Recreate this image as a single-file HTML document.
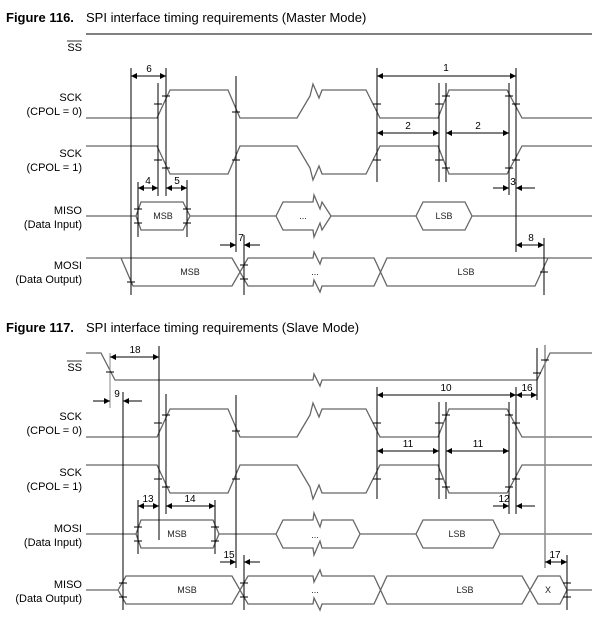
<!DOCTYPE html>
<html><head><style>
body{margin:0;background:#fff}
svg{display:block}
text{font-family:"Liberation Sans",Arial,sans-serif}
.s{fill:none;stroke:#666;stroke-width:1.3}
.k{fill:none;stroke:#000;stroke-width:1}
.l{font-size:11px;text-anchor:end;fill:#000}
.n{font-size:10px;text-anchor:middle;fill:#000}
.b{font-size:9px;text-anchor:middle;fill:#222}
</style></head><body>
<svg width="607" height="623" viewBox="0 0 607 623" xmlns="http://www.w3.org/2000/svg">
<defs>
<marker id="a" viewBox="0 0 10 10" refX="10" refY="5" markerWidth="9" markerHeight="6" orient="auto-start-reverse" markerUnits="userSpaceOnUse"><path d="M0,0L10,5L0,10z" fill="#000"/></marker>
</defs>
<!-- Figure 116 -->
<text x="6" y="22" font-size="13" font-weight="bold">Figure 116.</text>
<text x="86" y="22" font-size="13">SPI interface timing requirements (Master Mode)</text>
<line x1="86" y1="34" x2="592" y2="34" stroke="#000" stroke-width="1"/>
<text class="l" x="82" y="51">SS</text>
<line x1="67" y1="41" x2="82" y2="41" stroke="#000" stroke-width="0.8"/>
<text class="l" x="82" y="101">SCK</text><text class="l" x="82" y="115">(CPOL = 0)</text>
<text class="l" x="82" y="157">SCK</text><text class="l" x="82" y="171">(CPOL = 1)</text>
<text class="l" x="82" y="214">MISO</text><text class="l" x="82" y="228">(Data Input)</text>
<text class="l" x="82" y="269">MOSI</text><text class="l" x="82" y="283">(Data Output)</text>

<g id="sck">
<path class="s" d="M86,118H157L170,90H228L240,118H297L310,96L313,84L319,98L322,90H366L380,118H438L449,90H507L522,118H592"/>
<path class="s" d="M86,146H157L170,174H228L240,146H297L310,168L313,180L319,166L322,174H366L380,146H438L449,174H507L522,146H592"/>
</g>
<!-- MISO in -->
<path class="s" d="M86,216H136L141,202H183L190,216L183,230H141L136,216M190,216H276L283,202H313L314,195L320,209L322,202L331,216L322,230L320,223L314,237L313,230H283L276,216M331,216H416L423,202H465L472,216L465,230H423L416,216M472,216H592"/>
<text class="b" x="163" y="219">MSB</text><text class="b" x="303" y="219">...</text><text class="b" x="444" y="219">LSB</text>
<!-- MOSI out -->
<path class="s" d="M86,258H232L248,286H313L314,280L320,292L322,286H374L387,258H592M121,258L133,286H232L248,258H313L314,252L320,264L322,258H374L387,286H535L548,258"/>
<text class="b" x="190" y="275">MSB</text><text class="b" x="315" y="275">...</text><text class="b" x="466" y="275">LSB</text>

<g class="k">
<line x1="131" y1="68" x2="131" y2="295"/>
<line x1="158" y1="83" x2="158" y2="196"/>
<line x1="166" y1="68" x2="166" y2="196"/>
<line x1="236" y1="76" x2="236" y2="252"/>
<line x1="244" y1="235" x2="244" y2="295"/>
<line x1="138" y1="182" x2="138" y2="237"/>
<line x1="187" y1="180" x2="187" y2="237"/>
<line x1="377" y1="68" x2="377" y2="182"/>
<line x1="516" y1="68" x2="516" y2="252"/>
<line x1="439" y1="83" x2="439" y2="182"/>
<line x1="446" y1="83" x2="446" y2="182"/>
<line x1="509" y1="83" x2="509" y2="195"/>
<line x1="544" y1="238" x2="544" y2="295"/>
<line x1="131" y1="76" x2="166" y2="76" marker-start="url(#a)" marker-end="url(#a)"/>
<line x1="138" y1="188" x2="158" y2="188" marker-start="url(#a)" marker-end="url(#a)"/>
<line x1="166" y1="188" x2="187" y2="188" marker-start="url(#a)" marker-end="url(#a)"/>
<line x1="220" y1="245" x2="236" y2="245" marker-end="url(#a)"/>
<line x1="260" y1="245" x2="244" y2="245" marker-end="url(#a)"/>
<line x1="377" y1="76" x2="516" y2="76" marker-start="url(#a)" marker-end="url(#a)"/>
<line x1="377" y1="133" x2="439" y2="133" marker-start="url(#a)" marker-end="url(#a)"/>
<line x1="446" y1="133" x2="509" y2="133" marker-start="url(#a)" marker-end="url(#a)"/>
<line x1="493" y1="188" x2="509" y2="188" marker-end="url(#a)"/>
<line x1="535" y1="188" x2="516" y2="188" marker-end="url(#a)"/>
<line x1="516" y1="245" x2="544" y2="245" marker-start="url(#a)" marker-end="url(#a)"/>
<path d="M127,282h8M154,104h8M162,96h8M232,112h8M154,160h8M162,168h8M232,160h8M134,209h8M134,223h8M183,209h8M183,223h8M240,265h8M240,279h8M373,104h8M373,160h8M435,104h8M442,96h8M435,160h8M442,168h8M505,96h8M512,104h8M505,168h8M512,160h8M540,272h8"/>
</g>
<text class="n" x="149" y="72">6</text><text class="n" x="148" y="184">4</text><text class="n" x="177" y="184">5</text>
<text class="n" x="241" y="241">7</text><text class="n" x="446" y="71">1</text>
<text class="n" x="408" y="129">2</text><text class="n" x="478" y="129">2</text>
<text class="n" x="513" y="185">3</text><text class="n" x="531" y="241">8</text>

<!-- Figure 117 -->
<text x="6" y="332" font-size="13" font-weight="bold">Figure 117.</text>
<text x="86" y="332" font-size="13">SPI interface timing requirements (Slave Mode)</text>
<text class="l" x="82" y="371">SS</text>
<line x1="67" y1="361" x2="82" y2="361" stroke="#000" stroke-width="0.8"/>
<text class="l" x="82" y="420">SCK</text><text class="l" x="82" y="434">(CPOL = 0)</text>
<text class="l" x="82" y="476">SCK</text><text class="l" x="82" y="490">(CPOL = 1)</text>
<text class="l" x="82" y="532">MOSI</text><text class="l" x="82" y="546">(Data Input)</text>
<text class="l" x="82" y="588">MISO</text><text class="l" x="82" y="602">(Data Output)</text>

<path class="s" d="M86,353H101L115,380H313L314,374L320,386L322,380H537L550,353H592"/>
<g transform="translate(0,319)">
<path class="s" d="M86,118H157L170,90H228L240,118H297L310,96L313,84L319,98L322,90H366L380,118H438L449,90H507L522,118H592"/>
<path class="s" d="M86,146H157L170,174H228L240,146H297L310,168L313,180L319,166L322,174H366L380,146H438L449,174H507L522,146H592"/>
</g>
<g transform="translate(0,318)">
<path class="s" d="M86,216H136L141,202H213L219,216L213,230H141L136,216M219,216H276L283,202H313L314,195L320,209L322,202H353L360,216L353,230H322L320,223L314,237L313,230H283L276,216M360,216H416L423,202H493L500,216L493,230H423L416,216M500,216H592"/>
<path class="s" d="M86,272H118L126,258H232L248,286H313L314,280L320,292L322,286H374L387,258H522L538,286H560L567,272L560,258H538L522,286H387L374,258H322L320,252L314,264L313,258H248L232,286H126L118,272M567,272H592"/>
</g>
<text class="b" x="177" y="537">MSB</text><text class="b" x="315" y="538">...</text><text class="b" x="457" y="537">LSB</text>
<text class="b" x="187" y="593">MSB</text><text class="b" x="315" y="593">...</text><text class="b" x="465" y="593">LSB</text><text class="b" x="548" y="593">X</text>

<g class="k">
<line x1="110" y1="353" x2="110" y2="408" stroke="#888"/>
<line x1="159" y1="346" x2="159" y2="540"/>
<line x1="123" y1="392" x2="123" y2="610"/>
<line x1="166" y1="394" x2="166" y2="514"/>
<line x1="236" y1="395" x2="236" y2="568"/>
<line x1="244" y1="555" x2="244" y2="610"/>
<line x1="138" y1="500" x2="138" y2="554"/>
<line x1="215" y1="500" x2="215" y2="554"/>
<line x1="377" y1="387" x2="377" y2="499"/>
<line x1="516" y1="387" x2="516" y2="514"/>
<line x1="439" y1="402" x2="439" y2="499"/>
<line x1="446" y1="402" x2="446" y2="499"/>
<line x1="509" y1="402" x2="509" y2="514"/>
<line x1="537" y1="348" x2="537" y2="400"/>
<line x1="545" y1="345" x2="545" y2="568" stroke="#888" stroke-width="1.5"/>
<line x1="567" y1="555" x2="567" y2="610"/>
<line x1="110" y1="357" x2="159" y2="357" marker-start="url(#a)" marker-end="url(#a)"/>
<line x1="93" y1="401" x2="110" y2="401" marker-end="url(#a)"/>
<line x1="142" y1="401" x2="123" y2="401" marker-end="url(#a)"/>
<line x1="138" y1="506" x2="159" y2="506" marker-start="url(#a)" marker-end="url(#a)"/>
<line x1="166" y1="506" x2="215" y2="506" marker-start="url(#a)" marker-end="url(#a)"/>
<line x1="220" y1="562" x2="236" y2="562" marker-end="url(#a)"/>
<line x1="260" y1="562" x2="244" y2="562" marker-end="url(#a)"/>
<line x1="377" y1="395" x2="516" y2="395" marker-start="url(#a)" marker-end="url(#a)"/>
<line x1="516" y1="395" x2="537" y2="395" marker-start="url(#a)" marker-end="url(#a)"/>
<line x1="377" y1="451" x2="439" y2="451" marker-start="url(#a)" marker-end="url(#a)"/>
<line x1="446" y1="451" x2="509" y2="451" marker-start="url(#a)" marker-end="url(#a)"/>
<line x1="493" y1="506" x2="509" y2="506" marker-end="url(#a)"/>
<line x1="535" y1="506" x2="516" y2="506" marker-end="url(#a)"/>
<line x1="545" y1="562" x2="567" y2="562" marker-start="url(#a)" marker-end="url(#a)"/>
<path d="M106,372h8M533,373h8M541,360h8M154,423h8M162,415h8M232,431h8M154,479h8M162,487h8M232,479h8M134,527h8M134,541h8M211,527h8M211,541h8M119,583h8M119,597h8M240,583h8M240,597h8M373,423h8M373,479h8M435,423h8M442,415h8M435,479h8M442,487h8M505,415h8M512,423h8M505,487h8M512,479h8M563,583h8M563,597h8"/>
</g>
<text class="n" x="135" y="353">18</text><text class="n" x="117" y="397">9</text>
<text class="n" x="148" y="502">13</text><text class="n" x="190" y="502">14</text>
<text class="n" x="229" y="558">15</text><text class="n" x="446" y="391">10</text><text class="n" x="527" y="391">16</text>
<text class="n" x="408" y="447">11</text><text class="n" x="478" y="447">11</text>
<text class="n" x="504" y="502">12</text><text class="n" x="555" y="558">17</text>
</svg>
</body></html>
